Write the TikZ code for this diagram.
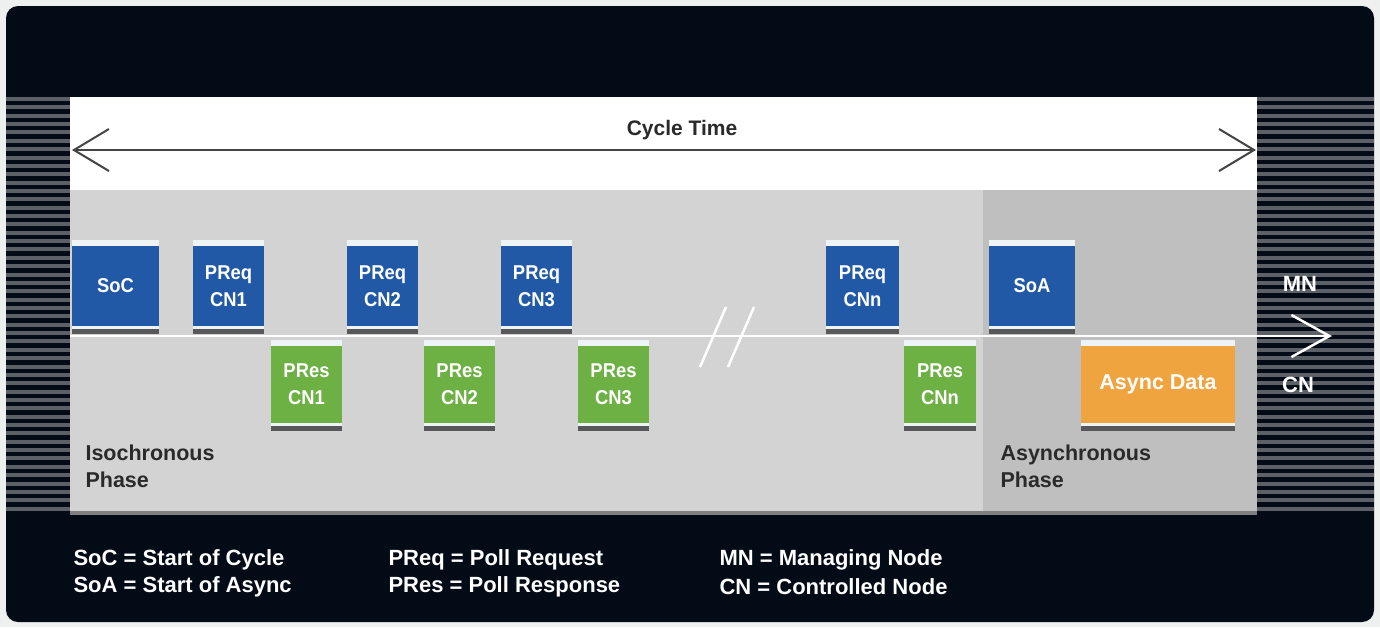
\documentclass[tikz,border=0pt]{standalone}
\usepackage{fontspec}
\setmainfont{Liberation Sans}
\newfontfamily\narrowfont{Liberation Sans}[FakeStretch=0.92]
\usetikzlibrary{arrows.meta}

\definecolor{pagebg}{HTML}{EEF0EF}
\definecolor{panel}{HTML}{020B16}
\definecolor{stripe}{HTML}{5B6166}
\definecolor{isogrey}{HTML}{D3D3D3}
\definecolor{asyncgrey}{HTML}{BFBFBF}
\definecolor{reqblue}{HTML}{2159A6}
\definecolor{resgreen}{HTML}{6DB044}
\definecolor{asyncorange}{HTML}{F0A440}
\definecolor{barlight}{HTML}{EEF3F5}
\definecolor{bardark}{HTML}{58575A}
\definecolor{linegrey}{HTML}{444444}
\definecolor{labelgrey}{HTML}{2A2A2A}

\tikzset{
  frame/.style={rectangle, inner sep=0pt, minimum height=80pt, text=white,
    align=center, font=\narrowfont\bfseries\fontsize{20}{27}\selectfont},
  mnframe/.style={frame, fill=reqblue},
  cnframe/.style={frame, fill=resgreen, minimum height=77pt},
  phase/.style={anchor=north west, align=left, text=labelgrey,
    font=\bfseries\fontsize{21.5}{27}\selectfont},
  legend/.style={anchor=west, text=white, font=\bfseries\fontsize{22}{27}\selectfont},
}

\begin{document}
\begin{tikzpicture}[x=1pt, y=-1pt]
    \useasboundingbox (0,0) rectangle (1380,627);
    \fill[pagebg] (0,0) rectangle (1380,627);
    \fill[panel, rounded corners=12pt] (6,6) rectangle (1374,622);

    % striped edges left and right
    \foreach \i in {0,...,49} {
      \fill[stripe] (6,{97+8.36*\i}) rectangle (70,{101+8.36*\i});
      \fill[stripe] (1257,{97+8.36*\i}) rectangle (1374,{101+8.36*\i});
    }

    % bands
    \fill[white] (70,97) rectangle (1257,190);
    \fill[isogrey] (70,190) rectangle (983,515);
    \fill[asyncgrey] (983,190) rectangle (1257,515);
    \fill[gray] (70,511) rectangle (1257,515);

    % cycle time
    \coordinate (ct0) at (72,150);
    \coordinate (ct1) at (1256,150);
    \node[text=labelgrey, font=\bfseries\fontsize{21}{24}\selectfont] (cyc) at (682,130) {Cycle Time};
    \draw[linegrey, line width=2pt,
      {Straight Barb[length=35pt, width=42pt, line width=2pt]}-{Straight Barb[length=35pt, width=42pt, line width=2pt]}]
      (ct0) -- (ct1);

    % frames of the managing node
    \node[mnframe, minimum width=87pt] (soc) at (115.5,286) {SoC};
    \node[mnframe, minimum width=71pt] (preq1) at (228.5,286) {PReq\\CN1};
    \node[mnframe, minimum width=71pt] (preq2) at (382.5,286) {PReq\\CN2};
    \node[mnframe, minimum width=71pt] (preq3) at (536.5,286) {PReq\\CN3};
    \node[mnframe, minimum width=73pt] (preqn) at (862.5,286) {PReq\\CNn};
    \node[mnframe, minimum width=86pt] (soa) at (1032,286) {SoA};

    % frames of the controlled nodes
    \node[cnframe, minimum width=71pt] (pres1) at (306.5,384.5) {PRes\\CN1};
    \node[cnframe, minimum width=71pt] (pres2) at (459.5,384.5) {PRes\\CN2};
    \node[cnframe, minimum width=71pt] (pres3) at (613.5,384.5) {PRes\\CN3};
    \node[cnframe, minimum width=72pt] (presn) at (940,384.5) {PRes\\CNn};
    \node[cnframe, fill=asyncorange, minimum width=154pt,
      font=\bfseries\fontsize{21.5}{27}\selectfont] (async) at (1158,384.5) {Async Data};

    \foreach \n in {soc,preq1,preq2,preq3,preqn,soa,pres1,pres2,pres3,presn,async} {
      \fill[barlight] ([yshift=6pt]\n.north west) rectangle (\n.north east);
      \fill[barlight] (\n.south west) rectangle ([yshift=-3pt]\n.south east);
      \fill[bardark] ([yshift=-3pt]\n.south west) rectangle ([yshift=-8pt]\n.south east);
    }

    % time line
    \coordinate (tl0) at (70,336);
    \coordinate (tl1) at (1332,336);
    \draw[white, line width=2.5pt,
      -{Straight Barb[length=38pt, width=42pt, line width=2.5pt]}] (tl0) -- (tl1);
    \draw[white, line width=2.5pt] (700,367) -- (726,307);
    \draw[white, line width=2.5pt] (728,367) -- (754,307);

    \node[text=white, font=\bfseries\fontsize{22}{24}\selectfont] (mn) at (1300,284) {MN};
    \node[text=white, font=\bfseries\fontsize{22}{24}\selectfont] (cn) at (1298,385) {CN};

    % phases
    \node[phase] (iso) at (82,441) {Isochronous\\Phase};
    \node[phase] (asy) at (997,441) {Asynchronous\\Phase};

    % legend
    \node[legend] (l1) at (70,560) {SoC = Start of Cycle};
    \node[legend] (l2) at (70,587) {SoA = Start of Async};
    \node[legend] (l3) at (385,560) {PReq = Poll Request};
    \node[legend] (l4) at (385,587) {PRes = Poll Response};
    \node[legend] (l5) at (716,560) {MN = Managing Node};
    \node[legend] (l6) at (716,587) {CN = Controlled Node};
\end{tikzpicture}
\end{document}
